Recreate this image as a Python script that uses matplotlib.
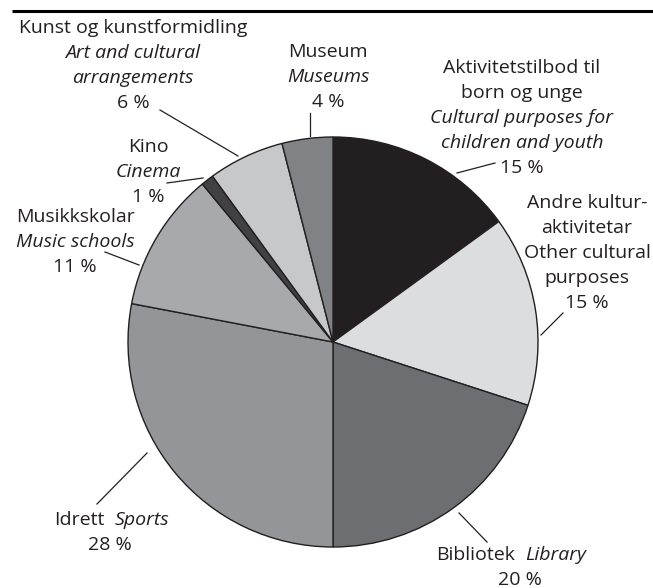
import matplotlib
matplotlib.use("Agg")
import matplotlib.pyplot as plt

# share of spending, per cent (clockwise from top)
categories = ["Aktivitetstilbod til born og unge", "Andre kulturaktivitetar", "Bibliotek",
              "Idrett", "Musikkskolar", "Kino", "Kunst og kunstformidling", "Museum"]
shares = [15, 15, 20, 28, 11, 1, 6, 4]
colours = ["#231f20", "#dcdddf", "#6d6e71", "#939598", "#a7a9ac", "#414042", "#c7c8ca", "#808285"]

# label lines: (text, italic?)
label_lines = [
    [("Aktivitetstilbod til", False), ("born og unge", False), ("Cultural purposes for", True),
     ("children and youth", True), ("15 %", False)],
    [("Andre kultur-", False), ("aktivitetar", False), ("Other cultural", False),
     ("purposes", False), ("15 %", False)],
    None,
    None,
    [("Musikkskolar", False), ("Music schools", True), ("11 %", False)],
    [("Kino", False), ("Cinema", True), ("1 %", False)],
    [("Kunst og kunstformidling", False), ("Art and cultural", True),
     ("arrangements", True), ("6 %", False)],
    [("Museum", False), ("Museums", True), ("4 %", False)],
]
# two-part labels: (norwegian, english, percent)
pair_labels = {2: ("Bibliotek", "Library", "20 %"), 3: ("Idrett", "Sports", "28 %")}

# layout in pixels (y measured from top)
W, H = 653, 588
cx, cy, R = 333, 342, 205
text_pos = {0: (522, 68), 1: (587, 203), 2: (520, 555), 3: (110, 520),
            4: (75, 217), 5: (148, 147), 6: (133, 28), 7: (328, 52)}
line_step = 25
leaders = {0: ((457, 173), (495, 163)), 1: ((541, 335), (563, 313)),
           2: ((459, 513), (487, 542)), 3: ((147, 453), (97, 504)),
           4: ((139, 265), (105, 252)), 5: ((203, 178), (167, 183)),
           6: ((238, 156), (160, 110)), 7: ((310, 136), (310, 113))}

txt_col = "#231f20"
fs = 14
plt.rcParams['font.family'] = ['Open Sans', 'DejaVu Sans']

fig = plt.figure(figsize=(W / 100, H / 100), dpi=100)
ax = fig.add_axes([0, 0, 1, 1])
ax.set_xlim(0, W)
ax.set_ylim(0, H)
ax.set_aspect('equal')
ax.axis('off')

ax.pie(shares, colors=colours, startangle=90, counterclock=False,
       center=(cx, H - cy), radius=R, frame=True,
       wedgeprops=dict(edgecolor=txt_col, linewidth=1.0))
ax.set_xlim(0, W)
ax.set_ylim(0, H)
ax.axis('off')

# top rule
ax.plot([12, W], [H - 11, H - 11], color="black", lw=2.2, solid_capstyle='butt')

for i, cat in enumerate(categories):
    x, y = text_pos[i]
    if label_lines[i] is not None:
        for k, (t, it) in enumerate(label_lines[i]):
            ax.text(x, H - (y + k * line_step), t, ha='center', va='center',
                    fontsize=fs, color=txt_col, style='italic' if it else 'normal')
    else:
        no, en, pc = pair_labels[i]
        ax.text(x - 5, H - y, no, ha='right', va='center', fontsize=fs, color=txt_col)
        ax.text(x + 5, H - y, en, ha='left', va='center', fontsize=fs, color=txt_col,
                style='italic')
        ax.text(x, H - (y + line_step), pc, ha='center', va='center', fontsize=fs,
                color=txt_col)
    (x0, y0), (x1, y1) = leaders[i]
    ax.plot([x0, x1], [H - y0, H - y1], color=txt_col, lw=0.9)

fig.savefig("out.png", dpi=100)
